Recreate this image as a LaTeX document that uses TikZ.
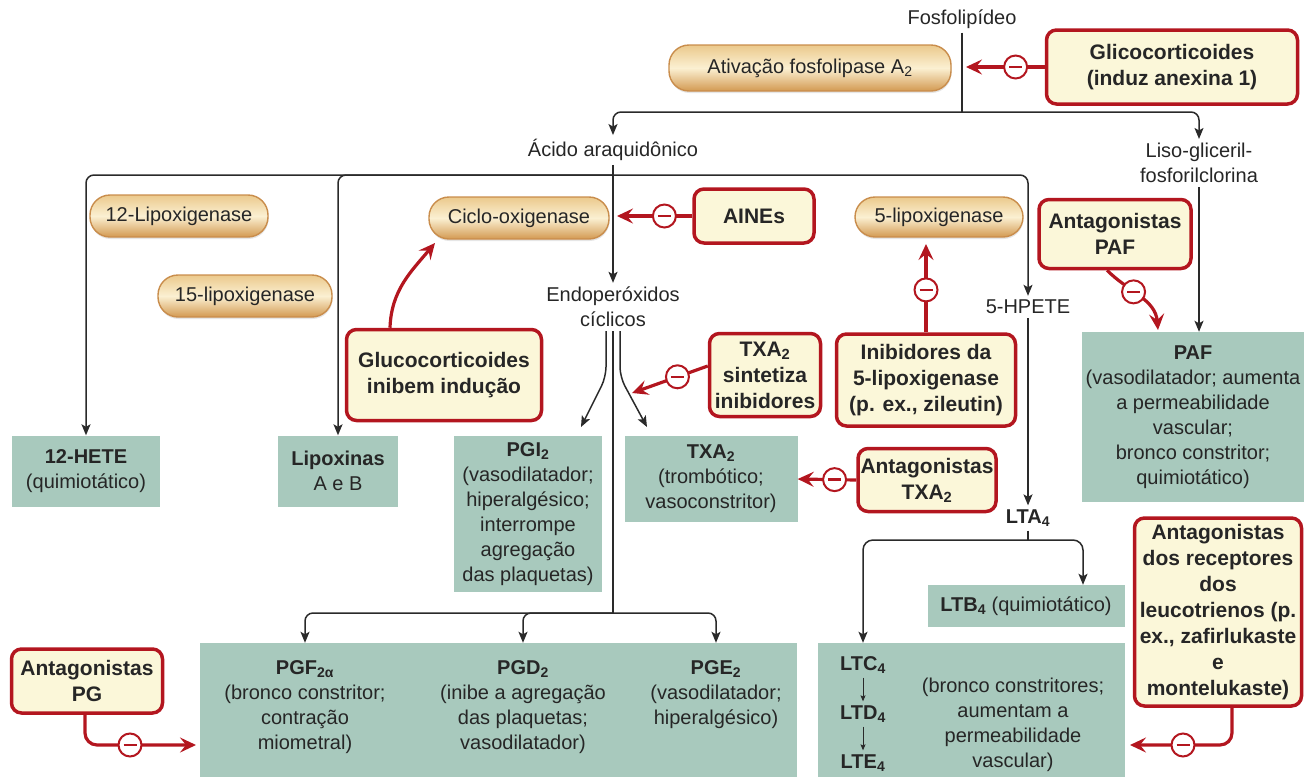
\documentclass[tikz,border=0pt]{standalone}
\usepackage{fontspec}
\setmainfont{Liberation Sans}
\usetikzlibrary{arrows.meta,shadows,calc}
\definecolor{dred}{HTML}{B3161F}
\definecolor{lyel}{HTML}{FBF7D9}
\definecolor{tealbox}{HTML}{A8C9BD}
\definecolor{dtext}{HTML}{262626}
\definecolor{lgray}{HTML}{2A2A2A}
\definecolor{pilltop}{HTML}{EBC98C}
\definecolor{pillmid}{HTML}{FBF0D2}
\definecolor{pillbot}{HTML}{D39A52}
\definecolor{pilledge}{HTML}{C98D4C}
\begin{document}
\begin{tikzpicture}[x=1pt,y=-1pt,
  reg/.style={font=\fontsize{20}{25}\selectfont},
  txt/.style={reg, text=dtext, align=center, inner sep=4pt},
  enz/.style={reg, text=dtext, align=center, inner sep=0pt, rounded corners=20pt,
    minimum height=42pt, draw=pilledge, line width=1.4pt,
    top color=pilltop, bottom color=pillbot, middle color=pillmid,
    drop shadow={opacity=0.2,shadow xshift=0.5pt,shadow yshift=-2pt}},
  inh/.style={font=\fontsize{21}{26}\selectfont\bfseries, text=dtext, align=center,
    inner sep=0pt, draw=dred, line width=3.5pt, rounded corners=10pt, fill=lyel},
  res/.style={reg, text=dtext, align=center, inner sep=0pt, fill=tealbox},
  arr/.style={draw=lgray, line width=1.5pt, -{Stealth[length=11pt,width=9pt,inset=2.5pt]}},
  arrsm/.style={draw=lgray, line width=1pt, -{Stealth[length=6pt,width=5pt,inset=1pt]}},
  ln/.style={draw=lgray, line width=1.5pt},
  rarr/.style={draw=dred, line width=3.2pt, -{Stealth[length=16pt,width=15pt,inset=6pt]}},
  inhib/.style={circle, draw=dred, line width=2pt, fill=white, minimum size=23pt, inner sep=0pt,
    path picture={\draw[dred, line width=2.6pt, -] ([xshift=-6.5pt]path picture bounding box.center) -- ([xshift=6.5pt]path picture bounding box.center);}}
]
\useasboundingbox (0,0) rectangle (1304,777);

% ---------- nodes ----------
\node[txt] (fos) at (962,19) {Fosfolipídeo};
\node[enz, minimum width=282pt, minimum height=46pt] (pla) at (810,68) {Ativação fosfolipase A\textsubscript{2}};
\node[inh, minimum width=251pt, minimum height=74pt] (glic) at (1172,67) {Glicocorticoides\\(induz anexina 1)};
\node[txt] (aa) at (613,150) {Ácido araquidônico};
\node[txt] (liso) at (1199,163) {Liso-gliceril-\\fosforilclorina};

\node[enz, minimum width=178pt] (lox12) at (179,216) {12-Lipoxigenase};
\node[enz, minimum width=174pt] (lox15) at (245,296) {15-lipoxigenase};
\node[enz, minimum width=180pt] (cox) at (519,218) {Ciclo-oxigenase};
\node[enz, minimum width=168pt, minimum height=40pt] (lox5) at (939,217) {5-lipoxigenase};
\node[inh, minimum width=120pt, minimum height=54pt] (aines) at (754,216) {AINEs};
\node[inh, minimum width=152pt, minimum height=69pt] (pafant) at (1115,234) {Antagonistas\\PAF};

\node[txt] (endo) at (613,307) {Endoperóxidos\\cíclicos};
\node[txt] (hpete) at (1028,307) {5-HPETE};

\node[inh, minimum width=195pt, minimum height=91pt] (gluc) at (444,375) {Glucocorticoides\\inibem indução};
\node[inh, minimum width=111pt, minimum height=83pt] (txsi) at (765,375) {TXA\textsubscript{2}\\sintetiza\\inibidores};
\node[inh, minimum width=179pt, minimum height=92pt] (inib5) at (926,380) {Inibidores da\\5-lipoxigenase\\(p. ex., zileutin)};

\node[res, minimum width=148pt, minimum height=71pt] (hete) at (86,471) {\textbf{12-HETE}\\(quimiotático)};
\node[res, minimum width=120pt, minimum height=71pt] (lipox) at (338,471) {\textbf{Lipoxinas}\\A e B};
\node[res, minimum width=148pt, minimum height=156pt] (pgi) at (528,514) {\textbf{PGI\textsubscript{2}}\\(vasodilatador;\\hiperalgésico;\\interrompe\\agregação\\das plaquetas)};
\node[res, minimum width=173pt, minimum height=86pt] (txa) at (711,479) {\textbf{TXA\textsubscript{2}}\\(trombótico;\\vasoconstritor)};
\node[inh, minimum width=138pt, minimum height=63pt] (txant) at (927,480) {Antagonistas\\TXA\textsubscript{2}};
\node[res, minimum width=222pt, minimum height=170pt] (paf) at (1193,417) {\textbf{PAF}\\(vasodilatador; aumenta\\a permeabilidade\\vascular;\\bronco constritor;\\quimiotático)};

\node[txt, font=\fontsize{20}{25}\selectfont\bfseries] (lta) at (1028,518) {LTA\textsubscript{4}};
\node[res, minimum width=197pt, minimum height=42pt] (ltb) at (1026,606) {\textbf{LTB\textsubscript{4}} (quimiotático)};
\node[inh, minimum width=167pt, minimum height=188pt] (ltant) at (1218,612) {Antagonistas\\dos receptores\\dos\\leucotrienos (p.\\ex., zafirlukaste\\e\\montelukaste)};

\node[inh, minimum width=151pt, minimum height=64pt] (pgant) at (87,681) {Antagonistas\\PG};
\node[res, minimum width=597pt, minimum height=134pt] (pg) at (498.5,710) {};
\node[res, minimum width=307pt, minimum height=134pt] (lt) at (971.5,710) {};

\node[txt, anchor=north] (pgf) at (305,656) {\textbf{PGF\textsubscript{2α}}\\(bronco constritor;\\contração\\miometral)};
\node[txt, anchor=north] (pgd) at (523,656) {\textbf{PGD\textsubscript{2}}\\(inibe a agregação\\das plaquetas;\\vasodilatador)};
\node[txt, anchor=north] (pge) at (716,656) {\textbf{PGE\textsubscript{2}}\\(vasodilatador;\\hiperalgésico)};

\node[txt, font=\fontsize{20}{25}\selectfont\bfseries] (ltc) at (863,665) {LTC\textsubscript{4}};
\node[txt, font=\fontsize{20}{25}\selectfont\bfseries] (ltd) at (863,714) {LTD\textsubscript{4}};
\node[txt, font=\fontsize{20}{25}\selectfont\bfseries] (lte) at (863,763) {LTE\textsubscript{4}};
\node[txt] (ltx) at (1013,725) {(bronco constritores;\\aumentam a\\permeabilidade\\vascular)};

% ---------- black connectors ----------
\coordinate (s1) at (962,112);
\draw[ln] (fos) -- (s1);
\draw[arr, rounded corners=8pt] (s1) -| (aa.north);
\draw[arr, rounded corners=8pt] (s1) -| (liso.north);

\draw[arr] (aa.south) -- (aa.south |- endo.north);
\coordinate (s2) at (613,175);
\draw[arr, rounded corners=8pt] (s2) -| (hete.north);
\draw[arr, rounded corners=8pt] (s2) -| (lipox.north);
\draw[arr, rounded corners=8pt] (s2) -| (hpete.north);

\coordinate (tL) at (581,427);
\coordinate (tR) at (647,427);
\draw[arr, rounded corners=10pt] ([xshift=-7pt]endo.south) -- (606,377) -- (tL);
\draw[arr, rounded corners=10pt] ([xshift=7pt]endo.south) -- (620,377) -- (tR);
\coordinate (s3) at (613,613);
\draw[ln] (endo.south) -- (s3);
\draw[arr, rounded corners=8pt] (s3) -| (pgf.north |- pg.north);
\draw[arr, rounded corners=8pt] (s3) -| (pgd.north |- pg.north);
\draw[arr, rounded corners=8pt] (s3) -| (pge.north |- pg.north);

\draw[arr] (hpete.south) -- (lta.north);
\coordinate (s4) at (1028,540);
\draw[ln] (lta.south) -- (s4);
\draw[arr, rounded corners=10pt] (s4) -| (ltc.north |- lt.north);
\draw[arr, rounded corners=10pt] (s4) -| ([xshift=57pt]ltb.north);
\draw[arrsm] (ltc) -- (ltd);
\draw[arrsm] (ltd) -- (lte);

\draw[arr] (liso.south) -- (liso.south |- paf.north);

% ---------- red inhibitions ----------
\coordinate (e1) at (966,67);
\draw[rarr] (glic.west) -- node[inhib, pos=0.37] (m1) {} (e1);
\coordinate (e2) at (617,216);
\draw[rarr] (aines.west) -- node[inhib, pos=0.37] (m2) {} (e2);
\coordinate (e3) at (435,243);
\draw[rarr] ([xshift=-54pt]gluc.north) to[out=88, in=230] (e3);
\coordinate (e4) at (926,244);
\draw[rarr] (inib5.north) -- node[inhib, pos=0.48] (m4) {} (e4);
\coordinate (e5) at (632,393);
\draw[rarr] ([yshift=9pt]txsi.west) -- node[inhib, pos=0.4] (m5) {} (e5);
\draw[rarr] (txant.west) -- node[inhib, pos=0.37] (m6) {} (txa.east);
\coordinate (e6) at (1158,330);
\draw[rarr] ([xshift=-8pt]pafant.south) to[out=-45, in=95] node[inhib, pos=0.4] (m7) {} (e6);
\coordinate (e7) at (1130,745);
\draw[rarr, rounded corners=12pt] ([xshift=14pt]ltant.south) |- (e7);
\node[inhib] (m8) at (1183,745) {};
\coordinate (e8) at (196,745);
\draw[rarr, rounded corners=12pt] ([xshift=-2pt]pgant.south) |- (e8);
\node[inhib] (m9) at (130,745) {};
\end{tikzpicture}
\end{document}
